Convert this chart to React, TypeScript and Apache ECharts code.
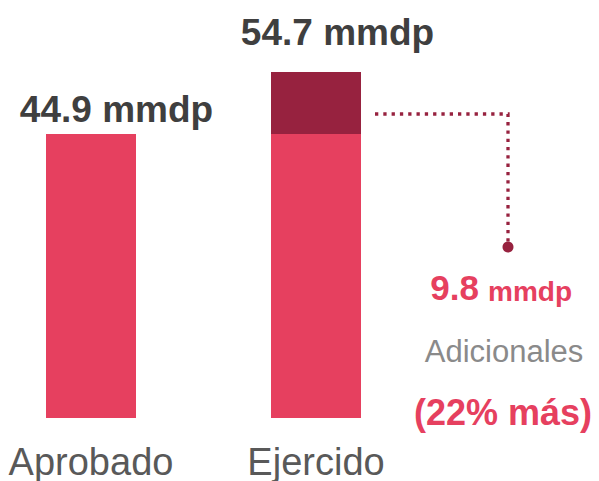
import React, { useEffect, useRef } from "react";
import * as echarts from "echarts";

const categories = ["Aprobado", "Ejercido"];
const baseValues = [44.9, 44.9];
const extraValues = [0, 9.8];
const unit = "mmdp";
const noteLabel = "Adicionales";

const LIGHT = "#E6405F";
const DARK = "#97223F";
const FONT = "'Liberation Sans', Arial, Helvetica, sans-serif";

export default function App() {
  const ref = useRef<HTMLDivElement>(null);
  useEffect(() => {
    if (!ref.current) return;
    const chart = echarts.init(ref.current, null, { renderer: "svg" });
    const totals = baseValues.map((b, i) => +(b + extraValues[i]).toFixed(1));
    const extra = extraValues[1];
    const pct = Math.round((extra / baseValues[1]) * 100);
    const topLabel = (text: string, dx: number, dist: number) => ({
      show: true,
      position: "top",
      distance: dist,
      offset: [dx, 0],
      formatter: text,
      color: "#3f3f3f",
      fontSize: 37,
      fontWeight: "bold",
      fontFamily: FONT,
    });
    chart.setOption({
      animation: false,
      grid: { left: 91, width: 225, top: 38.5, height: 383.5 },
      xAxis: {
        type: "category",
        data: categories,
        boundaryGap: false,
        axisLine: { show: false },
        axisTick: { show: false },
        axisLabel: {
          margin: 25,
          color: "#595959",
          fontSize: 38,
          fontFamily: FONT,
        },
      },
      yAxis: {
        type: "value",
        min: 0,
        max: 60,
        show: false,
        splitLine: { show: false },
      },
      series: [
        {
          type: "bar",
          stack: "t",
          barWidth: 90,
          itemStyle: { color: LIGHT },
          data: baseValues.map((v, i) =>
            i === 0
              ? { value: v, label: topLabel(`${totals[0]} ${unit}`, 25.5, 6) }
              : { value: v }
          ),
        },
        {
          type: "bar",
          stack: "t",
          barWidth: 90,
          itemStyle: { color: DARK },
          data: extraValues.map((v, i) =>
            i === 1
              ? { value: v, label: topLabel(`${totals[1]} ${unit}`, 21.5, 21) }
              : "-"
          ),
        },
      ],
      graphic: [
        {
          type: "polyline",
          shape: { points: [[375, 114], [508, 114], [508, 247]] },
          style: { stroke: DARK, lineWidth: 3.3, lineDash: [3.3, 5], fill: null },
        },
        {
          type: "circle",
          shape: { cx: 508, cy: 247, r: 5.5 },
          style: { fill: DARK },
        },
        {
          type: "text",
          x: 479,
          y: 305,
          style: {
            text: String(extra),
            fill: LIGHT,
            font: `bold 35px ${FONT}`,
            align: "right",
            verticalAlign: "bottom",
          },
        },
        {
          type: "text",
          x: 488,
          y: 305,
          style: {
            text: unit,
            fill: LIGHT,
            font: `bold 28px ${FONT}`,
            align: "left",
            verticalAlign: "bottom",
          },
        },
        {
          type: "text",
          x: 504,
          y: 351,
          style: {
            text: noteLabel,
            fill: "#8a8a8a",
            font: `31px ${FONT}`,
            align: "center",
            verticalAlign: "middle",
          },
        },
        {
          type: "text",
          x: 503,
          y: 412,
          style: {
            text: `(${pct}% más)`,
            fill: LIGHT,
            font: `bold 36px ${FONT}`,
            align: "center",
            verticalAlign: "middle",
          },
        },
      ],
    });
    return () => chart.dispose();
  }, []);
  return <div ref={ref} style={{ width: 599, height: 481, position: "absolute", left: 0, top: 0 }} />;
}
